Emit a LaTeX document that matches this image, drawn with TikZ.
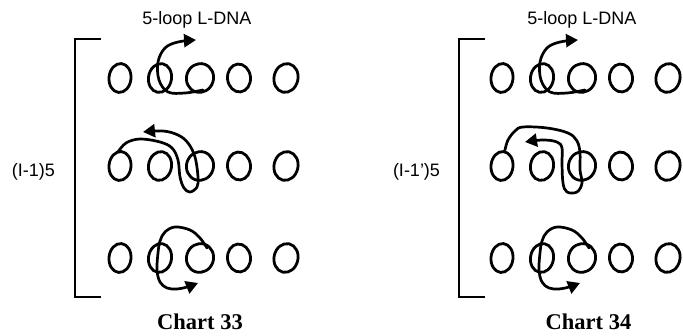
\documentclass[tikz,border=0pt]{standalone}
\usepackage{fontspec}
\setmainfont{Liberation Sans}
\newfontfamily\chartfont{Liberation Serif}
\usetikzlibrary{arrows.meta}
\tikzset{
  ring/.style={line width=2.8pt},
  strand/.style={line width=2.7pt, line cap=round, line join=round},
  arrstrand/.style={strand, -{Triangle[length=12pt,width=13pt]}},
  brack/.style={line width=2.6pt},
  lbl/.style={font=\fontsize{18}{20}\selectfont, anchor=base, inner sep=0pt},
  ttl/.style={font=\chartfont\bfseries\fontsize{22.5}{25}\selectfont, anchor=base, inner sep=0pt}
}
\newcommand{\ringrow}[2]{%
  \draw[ring,rotate around={-6:(#1+120,#2)}] (#1+120,#2) ellipse [x radius=11pt, y radius=14.5pt];
  \draw[ring,rotate around={-10:(#1+160,#2)}] (#1+160,#2) ellipse [x radius=11.5pt, y radius=14.5pt];
  \draw[ring,rotate around={-18:(#1+200,#2)}] (#1+200,#2) ellipse [x radius=13.5pt, y radius=14.5pt];
  \draw[ring,rotate around={6:(#1+239,#2)}] (#1+239,#2) ellipse [x radius=11.5pt, y radius=14pt];
  \draw[ring,rotate around={-12:(#1+286,#2)}] (#1+286,#2) ellipse [x radius=12pt, y radius=14.5pt];
}
\begin{document}
\begin{tikzpicture}[x=1pt,y=-1pt]
\useasboundingbox (0,0) rectangle (683,336);
\fill[white] (0,0) rectangle (683,336);

% ---------- Chart 33 ----------
\draw[brack] (101,39) -- (75,39) -- (75,297) -- (101,297);
\node[lbl] (t1) at (197,25) {5-loop L-DNA};
\node[lbl] (s1) at (33.5,177) {(I-1)5};
\node[ttl] (c1) at (200,330) {Chart 33};
\ringrow{0}{78}
\ringrow{0}{166}
\ringrow{0}{258}
% row 1 strand
\draw[arrstrand] plot[smooth, tension=0.6] coordinates {(203,90) (185,93) (168,92) (159,80) (158,62) (165,48) (178,42) (196,40)};
% row 2 strand
\draw[arrstrand] plot[smooth, tension=0.6] coordinates {(118,152) (126,143) (140,139) (160,142) (172,148) (178,160) (180,177) (184,188) (190,192) (197,187) (198,177) (195,157) (188,143) (178,135) (163,131) (143,132)};
% row 3 strand
\draw[arrstrand] plot[smooth, tension=0.6] coordinates {(207,248) (200,238) (190,230) (175,227) (165,232) (160,241) (158,253) (157,270) (160,282) (167,288) (177,289) (187,287) (198,283)};

% ---------- Chart 34 ----------
\draw[brack] (485,39) -- (459,39) -- (459,297) -- (485,297);
\node[lbl] (t2) at (582,25) {5-loop L-DNA};
\node[lbl] (s2) at (416.5,177) {(I-1')5};
\node[ttl] (c2) at (588.5,330) {Chart 34};
\ringrow{382}{78}
\ringrow{382}{166}
\ringrow{382}{258}
% row 1 strand
\draw[arrstrand] plot[smooth, tension=0.6] coordinates {(585,90) (567,93) (550,92) (541,80) (540,62) (547,48) (560,42) (578,40)};
% row 2 strand
\draw[arrstrand] plot[smooth, tension=0.6] coordinates {(505,150) (508,140) (515,131) (523,127) (547,128) (568,133) (577,141) (580,153) (580,170) (582,183) (577,192) (567,192) (563,183) (562,163) (562,148) (557,142) (543,140) (525,142)};
% row 3 strand
\draw[arrstrand] plot[smooth, tension=0.6] coordinates {(589,248) (582,238) (572,230) (557,227) (547,232) (542,241) (540,253) (539,270) (542,282) (549,288) (559,289) (569,287) (580,283)};
\end{tikzpicture}
\end{document}
